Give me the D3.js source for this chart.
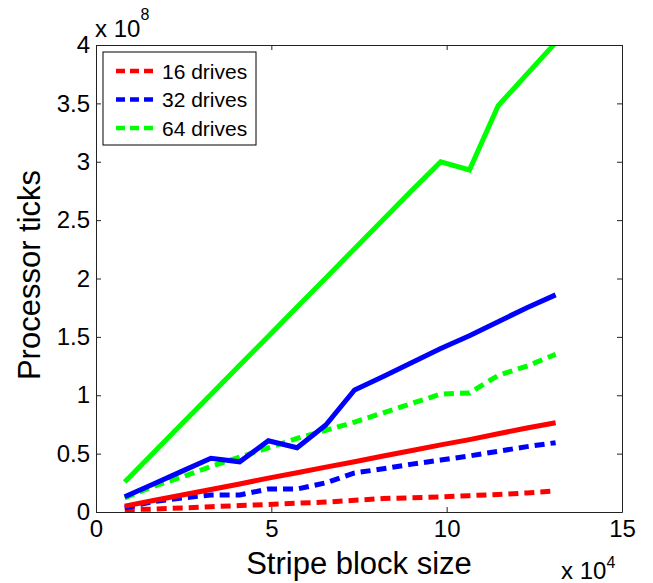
<!DOCTYPE html>
<html>
<head>
<meta charset="utf-8">
<script src="https://cdn.jsdelivr.net/npm/d3@7/dist/d3.min.js"></script>
<style>
  body { margin: 0; background: #fff; }
  svg { display: block; font-family: "Liberation Sans", Arial, Helvetica, sans-serif; }
  .axis text { font-size: 24px; fill: #000; }
  .axis line, .axis path { stroke: #222; }
</style>
</head>
<body>
<div id="chart"></div>
<script>
// Stripe block sizes (x axis, raw units)
var blockSizes = [8192, 16384, 24576, 32768, 40960, 49152, 57344, 65536,
  73728, 81920, 90112, 98304, 106496, 114688, 122880, 131072];

// Processor ticks, in units of 10^8
var dashed16 = [0.02, 0.025, 0.035, 0.045, 0.055, 0.065, 0.075, 0.085, 0.10, 0.115, 0.122, 0.13, 0.14, 0.15, 0.163, 0.18];
var dashed32 = [0.035, 0.09, 0.12, 0.146, 0.146, 0.197, 0.197, 0.25, 0.335, 0.37, 0.41, 0.445, 0.48, 0.52, 0.56, 0.594];
var dashed64 = [0.12, 0.22, 0.30, 0.39, 0.47, 0.55, 0.63, 0.70, 0.77, 0.85, 0.93, 1.01, 1.02, 1.17, 1.25, 1.35];
var solid16 = [0.05, 0.098, 0.145, 0.193, 0.24, 0.29, 0.336, 0.384, 0.43, 0.48, 0.527, 0.575, 0.62, 0.67, 0.72, 0.765];
var solid32 = [0.13, 0.24, 0.35, 0.46, 0.43, 0.61, 0.55, 0.745, 1.045, 1.16, 1.28, 1.40, 1.51, 1.63, 1.75, 1.86];
var solid64 = [0.257, 0.507, 0.757, 1.006, 1.256, 1.506, 1.756, 2.005, 2.255, 2.505, 2.755, 3.0, 2.93, 3.48, 3.75, 4.02];

var legendLabels = ['16 drives', '32 drives', '64 drives'];
var xTicks = [0, 50000, 100000, 150000];
var yTicks = [0, 0.5, 1, 1.5, 2, 2.5, 3, 3.5, 4];

// draw order: dashed first (these are in the legend), then solid
var series = [
  { values: dashed16, color: '#ff0000', dashed: true },
  { values: dashed32, color: '#0000ff', dashed: true },
  { values: dashed64, color: '#00ff00', dashed: true },
  { values: solid16, color: '#ff0000', dashed: false },
  { values: solid32, color: '#0000ff', dashed: false },
  { values: solid64, color: '#00ff00', dashed: false }
];

var layout = { width: 653, height: 583, left: 96, right: 622, top: 45, bottom: 512 };

var svg = d3.select('#chart').append('svg')
  .attr('width', layout.width)
  .attr('height', layout.height);

var x = d3.scaleLinear().domain([0, 150000]).range([layout.left, layout.right]);
var y = d3.scaleLinear().domain([0, 4]).range([layout.bottom, layout.top]);

// clip to the axes box
svg.append('clipPath').attr('id', 'plotclip')
  .append('rect')
  .attr('x', layout.left).attr('y', layout.top)
  .attr('width', layout.right - layout.left)
  .attr('height', layout.bottom - layout.top);

var line = d3.line()
  .x(function (d, i) { return x(blockSizes[i]); })
  .y(function (d) { return y(d); });

svg.append('g').attr('clip-path', 'url(#plotclip)')
  .selectAll('path')
  .data(series)
  .enter().append('path')
  .attr('d', function (s) { return line(s.values); })
  .attr('fill', 'none')
  .attr('stroke', function (s) { return s.color; })
  .attr('stroke-width', 5)
  .attr('stroke-dasharray', function (s) { return s.dashed ? '10,6' : null; });

// axes, MATLAB style: ticks point inwards on every side
var fmtX = function (d) { return d / 10000; };
var fmtY = function (d) { return d; };

svg.append('g').attr('class', 'axis')
  .attr('transform', 'translate(0,' + layout.bottom + ')')
  .call(d3.axisBottom(x).tickValues(xTicks).tickFormat(fmtX).tickSizeInner(-5).tickSizeOuter(0).tickPadding(8));

svg.append('g').attr('class', 'axis')
  .attr('transform', 'translate(0,' + layout.top + ')')
  .call(d3.axisTop(x).tickValues(xTicks).tickFormat('').tickSizeInner(-5).tickSizeOuter(0));

svg.append('g').attr('class', 'axis')
  .attr('transform', 'translate(' + layout.left + ',0)')
  .call(d3.axisLeft(y).tickValues(yTicks).tickFormat(fmtY).tickSizeInner(-5).tickSizeOuter(0).tickPadding(6));

svg.append('g').attr('class', 'axis')
  .attr('transform', 'translate(' + layout.right + ',0)')
  .call(d3.axisRight(y).tickValues(yTicks).tickFormat('').tickSizeInner(-5).tickSizeOuter(0));

// exponent labels
var expTop = svg.append('text').attr('x', 95).attr('y', 37)
  .attr('font-size', 24).text('x 10');
expTop.append('tspan').attr('font-size', 16).attr('dy', -17).text('8');

var expBottom = svg.append('text').attr('x', 561).attr('y', 579)
  .attr('font-size', 24).text('x 10');
expBottom.append('tspan').attr('font-size', 16).attr('dy', -11).text('4');

// axis titles
svg.append('text')
  .attr('x', (layout.left + layout.right) / 2).attr('y', 574)
  .attr('text-anchor', 'middle').attr('font-size', 31)
  .text('Stripe block size');

svg.append('text')
  .attr('transform', 'translate(40,' + 275 + ') rotate(-90)')
  .attr('text-anchor', 'middle').attr('font-size', 31)
  .text('Processor ticks');

// legend
var legend = svg.append('g');
legend.append('rect')
  .attr('x', 103).attr('y', 52).attr('width', 153).attr('height', 93)
  .attr('fill', '#fff').attr('stroke', '#000').attr('stroke-width', 1);

var items = legend.selectAll('g.item')
  .data(legendLabels)
  .enter().append('g').attr('class', 'item')
  .attr('transform', function (d, i) { return 'translate(0,' + (71 + i * 28.5) + ')'; });

items.append('line')
  .attr('x1', 116).attr('x2', 157)
  .attr('stroke', function (d, i) { return series[i].color; })
  .attr('stroke-width', 4.5)
  .attr('stroke-dasharray', '9,5');

items.append('text')
  .attr('x', 162).attr('dy', '0.36em')
  .attr('font-size', 21)
  .text(function (d) { return d; });
</script>
</body>
</html>
